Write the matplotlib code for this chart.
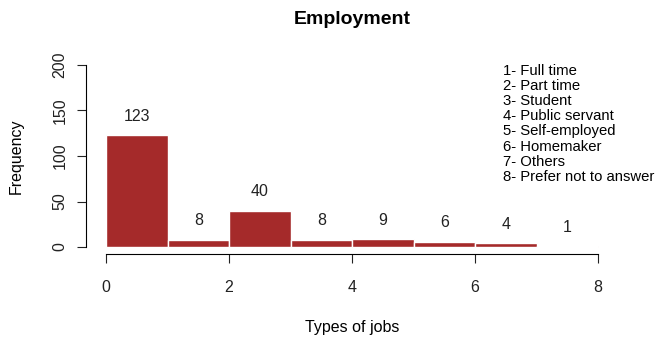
import matplotlib
matplotlib.use("Agg")
import matplotlib.pyplot as plt

plt.rcParams['font.family'] = ['Liberation Sans', 'DejaVu Sans']

bin_edges = [0, 1, 2, 3, 4, 5, 6, 7, 8]
counts = [123, 8, 40, 8, 9, 6, 4, 1]
x_ticks = [0, 2, 4, 6, 8]
y_ticks = [0, 50, 100, 150, 200]
legend_lines = ["1- Full time", "2- Part time", "3- Student", "4- Public servant",
                "5- Self-employed", "6- Homemaker", "7- Others", "8- Prefer not to answer"]

fig = plt.figure(figsize=(6.56, 3.38), dpi=100)
ax = fig.add_axes([0.1316, 0.2476, 0.9416 - 0.1316, 0.8293 - 0.2476])

lefts = bin_edges[:-1]
widths = [bin_edges[i + 1] - bin_edges[i] for i in range(len(counts))]
ax.bar(lefts, counts, width=widths, align='edge', color='#A52A2A',
       edgecolor='white', linewidth=1)
for l, w, c in zip(lefts, widths, counts):
    ax.annotate(str(c), (l + w / 2, c), xytext=(0, 13.5), textcoords='offset points',
                ha='center', va='center', fontsize=11.5, color='#222222')

ax.set_xlim(-0.32, 8.32)
ax.set_ylim(-8, 208)
for s in ['top', 'right']:
    ax.spines[s].set_visible(False)
ax.spines['left'].set_bounds(0, 200)
ax.spines['bottom'].set_bounds(0, 8)
ax.set_xticks(x_ticks)
ax.set_yticks(y_ticks)
ax.set_yticklabels([str(v) for v in y_ticks], rotation=90, va='center')
ax.tick_params(length=6.5, labelsize=11.5, colors='#222222')
ax.tick_params(axis='x', pad=12)
ax.tick_params(axis='y', pad=7)

ax.set_title("Employment", fontsize=14, fontweight='bold', pad=24)
ax.set_xlabel("Types of jobs", fontsize=11.5, labelpad=18)
ax.set_ylabel("Frequency", fontsize=11.5, labelpad=21)

ax.text(6.46, 201, "\n".join(legend_lines), ha='left', va='top', fontsize=10.7,
        linespacing=1.1, color='black')

fig.savefig("out.png", dpi=100)
